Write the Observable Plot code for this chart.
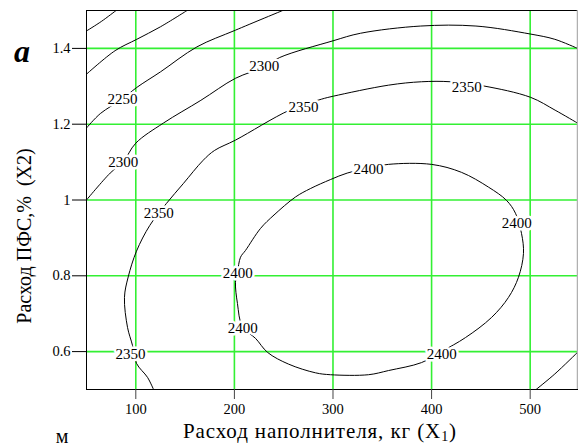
<!DOCTYPE html>
<html>
<head>
<meta charset="utf-8">
<script src="https://cdn.jsdelivr.net/npm/d3@7"></script>
<script src="https://cdn.jsdelivr.net/npm/@observablehq/plot@0.6"></script>
<style>
  html, body { margin: 0; padding: 0; background: white; }
  #chart { width: 578px; height: 446px; }
  #chart svg text { font-family: "Liberation Serif", "Times New Roman", serif !important; }
</style>
</head>
<body>
<div id="chart"></div>
<script>
// Axis domains and ticks
const xDomain = [50, 548];
const yDomain = [0.5, 1.5];
const xTicks = [100, 200, 300, 400, 500];
const yTicks = [0.6, 0.8, 1, 1.2, 1.4];

// Contour lines [X1, X2]
const c2150 = [[50,1.446],[65,1.471],[80,1.5]];
const c2200 = [[50,1.332],[79,1.394],[101,1.424],[125,1.457],[152,1.5]];
const c2250 = [[50,1.19],[64,1.228],[86,1.266],[101,1.297],[125,1.338],[162,1.404],[201,1.448],[249,1.5]];
const c2300 = [[50,1.0],[74,1.071],[87,1.1],[100,1.15],[128,1.203],[166,1.263],[201,1.321],[230,1.351],[246,1.376],[300,1.42],[328,1.44],[389,1.459],[445,1.459],[500,1.438],[525,1.424],[548,1.4]];
const c2350a = [[118,0.5],[111.9,0.532],[100.7,0.569],[96.7,0.616],[91.6,0.664],[88.5,0.743],[92.3,0.797],[100.7,0.865],[114.2,0.933],[131.1,0.991],[148.1,1.043],[168.4,1.105],[180,1.131],[201.1,1.158],[255.9,1.237],[288.3,1.266],[300.5,1.274],[356.3,1.303],[389.8,1.312],[419.2,1.312],[452.6,1.301],[500.3,1.271],[525.3,1.237],[548,1.203]];
const c2350b = [[506,0.5],[525,0.541],[548,0.598]];
const c2400 = [[226.5,0.925],[240,0.96],[262,1.008],[277,1.03],[297.5,1.054],[314.4,1.071],[336,1.084],[356.3,1.094],[399.9,1.094],[430.3,1.073],[457.7,1.034],[476,0.999],[485.1,0.965],[491.2,0.912],[493.2,0.859],[488.1,0.796],[478,0.743],[460.8,0.69],[434.4,0.637],[410,0.6],[389.8,0.571],[356.3,0.55],[336,0.539],[297.5,0.539],[282.3,0.544],[254.9,0.567],[233.6,0.598],[221.4,0.635],[208.2,0.665],[203.1,0.727],[201.1,0.783],[203.1,0.809],[206.2,0.849],[211.3,0.867]];

// Contour labels
const labelText = ["2250","2300","2300","2350","2350","2350","2350","2400","2400","2400","2400","2400"];
const labelX    = [86.5, 87.2, 230.3, 123.3, 270.1, 435.7, 94.6, 336, 486.4, 410.3, 208.5, 203.4];
const labelY    = [1.266, 1.099, 1.352, 0.964, 1.244, 1.297, 0.592, 1.081, 0.939, 0.592, 0.662, 0.808];

// Texts around the chart
const xTitle = ["Расход наполнителя, кг (X", "1", ")"];
const yTitle = "Расход ПФС,%\u00a0\u00a0(X2)";
const panelLetter = "a";
const cornerMark = "м";

const openLines = [
  {level: 2150, pts: c2150}, {level: 2200, pts: c2200}, {level: 2250, pts: c2250},
  {level: 2300, pts: c2300}, {level: "2350a", pts: c2350a}, {level: "2350b", pts: c2350b}
].flatMap(c => c.pts.map(([x, y]) => ({id: c.level, x, y})));
const ring = c2400.map(([x, y]) => ({x, y}));
const labels = labelText.map((t, i) => ({t, x: labelX[i], y: labelY[i]}));

const green = "#33f033";
const serif = "'Liberation Serif', 'Times New Roman', serif";

const chart = Plot.plot({
  width: 578,
  height: 446,
  marginLeft: 86,
  marginRight: 1,
  marginTop: 10,
  marginBottom: 57,
  style: {fontFamily: serif, fontSize: "14.5px", color: "black", background: "white", overflow: "visible"},
  x: {domain: xDomain},
  y: {domain: yDomain},
  marks: [
    Plot.ruleX(xTicks, {stroke: green, strokeWidth: 1.6}),
    Plot.ruleY(yTicks, {stroke: green, strokeWidth: 1.6}),
    Plot.line(openLines, {x: "x", y: "y", z: "id", stroke: "black", strokeWidth: 1, curve: "catmull-rom", clip: true}),
    Plot.line(ring, {x: "x", y: "y", stroke: "black", strokeWidth: 1, curve: "catmull-rom-closed", clip: true}),
    Plot.text(labels, {x: "x", y: "y", text: "t", fill: "black", stroke: "white", strokeWidth: 5, fontSize: 15}),
    Plot.frame({stroke: "black"}),
    Plot.ruleX([xDomain[1]], {stroke: "#b0b0b0", strokeWidth: 1.5}),
    Plot.axisY({ticks: yTicks, tickSize: 14, tickPadding: 2, fontSize: 14.5, label: null,
      tickFormat: d => d === 1 ? "1" : d.toFixed(1)}),
    Plot.axisX({ticks: xTicks, tickSize: 10, tickPadding: 4, fontSize: 14.5, label: null, stroke: "#444"})
  ]
});

const svg = d3.select(chart);

// x axis title with subscript
const xt = svg.append("text")
  .attr("x", 183).attr("y", 437.5).attr("text-anchor", "start")
  .attr("font-size", 21).attr("letter-spacing", "0.9px").attr("fill", "black");
xt.append("tspan").text(xTitle[0]);
xt.append("tspan").attr("font-size", 14).attr("dy", 3).text(xTitle[1]);
xt.append("tspan").attr("dy", -3).text(xTitle[2]);

// y axis title
svg.append("text")
  .attr("transform", "translate(31,236) rotate(-90)")
  .attr("text-anchor", "middle")
  .attr("font-size", 20).attr("fill", "black")
  .text(yTitle);

// panel letter
svg.append("text")
  .attr("x", 14).attr("y", 62).attr("text-anchor", "start")
  .attr("font-size", 32).attr("font-weight", "bold").attr("font-style", "italic")
  .attr("fill", "black")
  .text(panelLetter);

// corner mark
svg.append("text")
  .attr("x", 62).attr("y", 443).attr("text-anchor", "middle")
  .attr("font-size", 20).attr("fill", "black")
  .text(cornerMark);

// serif everywhere
svg.selectAll("text, g").attr("font-family", serif).style("font-family", serif);

document.getElementById("chart").append(chart);
</script>
</body>
</html>
